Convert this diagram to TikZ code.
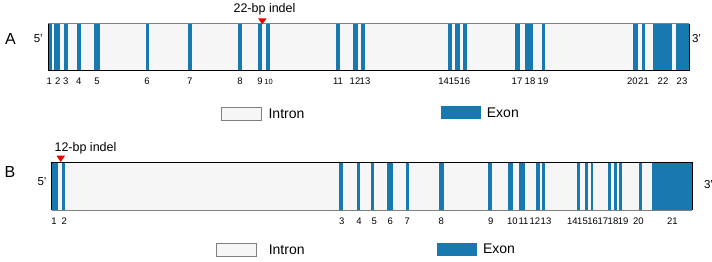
\documentclass[tikz,border=0pt]{standalone}
\usepackage{fontspec}
\setmainfont{Liberation Sans}
\usetikzlibrary{positioning}

\definecolor{exonblue}{RGB}{24,120,176}
\definecolor{intronfill}{RGB}{246,246,246}
\definecolor{edgegrey}{RGB}{128,128,128}
\definecolor{indelred}{RGB}{232,0,0}

\begin{document}
\begin{tikzpicture}[
    x=1pt,
    y=-1pt,
    every node/.style={inner sep=0pt},
    exon/.style={fill=exonblue},
    num/.style={font=\fontsize{9.5}{10}\selectfont},
    small num/.style={font=\fontsize{7.5}{8}\selectfont},
    panel/.style={font=\fontsize{16}{18}\selectfont},
    strand/.style={font=\fontsize{11.5}{12}\selectfont},
    indel/.style={font=\fontsize{12.5}{14}\selectfont},
    legtext/.style={font=\fontsize{14}{16}\selectfont, anchor=west},
    keyintron/.style={draw=edgegrey, fill=intronfill, line width=0.8pt,
        minimum width=40pt, minimum height=13pt},
    keyexon/.style={fill=exonblue, minimum width=40pt, minimum height=13pt},
    marker/.style={fill=indelred}
]
\useasboundingbox (0,0) rectangle (712,262);


% Gene A
\node[panel] (pa) at (10.5,39) {A};
\node[strand] (fivea) at (38.3,39) {5'};
\node[strand] (threea) at (696.5,39) {3'};

\fill[intronfill] (48,24) rectangle (689,71);
\foreach \s/\e in {48/52.3, 54/60.3, 63.7/67.7, 77.3/80.7, 94.3/100,
    145.7/149.3, 188/192.3, 237.7/241.7, 258/261.7, 266/270, 336/340,
    353.3/358.3, 361/364.7, 448.3/452, 455/460, 462.7/466.7, 514.7/520.3,
    525/532.7, 542/545.3, 633.3/638.3, 641.7/645, 653.3/672.3, 676.3/689}
    \fill[exon] (\s,24) rectangle (\e,71);
\draw[edgegrey, line width=1pt] (48,24) -- (689,24);
\draw[line width=1pt] (48,71) -- (689,71);
\draw[line width=1pt] (48,24) -- (48,71);
\draw[line width=1pt] (689,24) -- (689,71);

\foreach \n/\x in {1/49.3, 2/57.7, 3/65.7, 4/78.7, 5/97, 6/147, 7/189.7,
    8/240, 9/260, 11/338, 12/355, 13/365, 14/443.6, 15/454.2, 16/464.8,
    17/517, 18/530, 19/543, 20/632.3, 21/643.5, 22/663, 23/682}
    \node[num] (na\n) at (\x,81) {\n};
\node[small num] (na10) at (268.5,81.5) {10};

% indel A
\fill[marker] (258,18.3) -- (266.5,18.3) -- (262.3,24.5) -- cycle;
\node[indel] (indela) at (264.5,9) {22-bp indel};

% key A
\node[keyintron] (keyintrona) at (241,113.5) {};
\node[legtext, right=7pt of keyintrona] (intronlabela) {Intron};
\node[keyexon] (keyexona) at (460.5,112.5) {};
\node[legtext, right=6pt of keyexona] (exonlabela) {Exon};


% Gene B
\node[panel] (pb) at (10,171.7) {B};
\node[strand] (fiveb) at (42,181.7) {5'};
\node[strand] (threeb) at (708.5,184.3) {3'};

\fill[intronfill] (51.7,162.3) rectangle (692.3,210);
\foreach \s/\e in {51.7/57.7, 62/65.3, 339.3/343.3, 356.7/359.7,
    371.3/373.7, 387.3/392.7, 406/409, 439/443.7, 488/492, 507.7/513.3,
    518.7/524.7, 536/540.3, 542/545.3, 577.3/580, 584.7/588.3, 590.7/592.7,
    608/610.7, 614.3/616.7, 619.3/622.3, 639.3/642.3, 652/692.3}
    \fill[exon] (\s,162.3) rectangle (\e,210);
\draw[line width=1pt] (51.7,162.3) -- (692.3,162.3);
\draw[edgegrey, line width=1pt] (51.7,210) -- (692.3,210);
\draw[line width=1pt] (51.7,162.3) -- (51.7,210);
\draw[line width=1pt] (692.3,162.3) -- (692.3,210);

\foreach \n/\x in {1/54, 2/64.3, 3/341.7, 4/359, 5/374.3, 6/390.3, 7/407.3,
    8/441.3, 9/490.7, 10/512.3, 11/523.5, 12/534.8, 13/546, 14/572.4,
    15/582.5, 16/592.7, 17/602.9, 18/613, 19/623.2, 20/638.3, 21/672.3}
    \node[num] (nb\n) at (\x,221.5) {\n};

% indel B
\fill[marker] (56.5,155.7) -- (65,155.7) -- (60.7,162) -- cycle;
\node[indel] (indelb) at (85.5,148.3) {12-bp indel};

% key B
\node[keyintron] (keyintronb) at (236.2,249.7) {};
\node[legtext, right=12pt of keyintronb] (intronlabelb) {Intron};
\node[keyexon] (keyexonb) at (456.7,249.2) {};
\node[legtext, right=6pt of keyexonb] (exonlabelb) {Exon};


\end{tikzpicture}
\end{document}
